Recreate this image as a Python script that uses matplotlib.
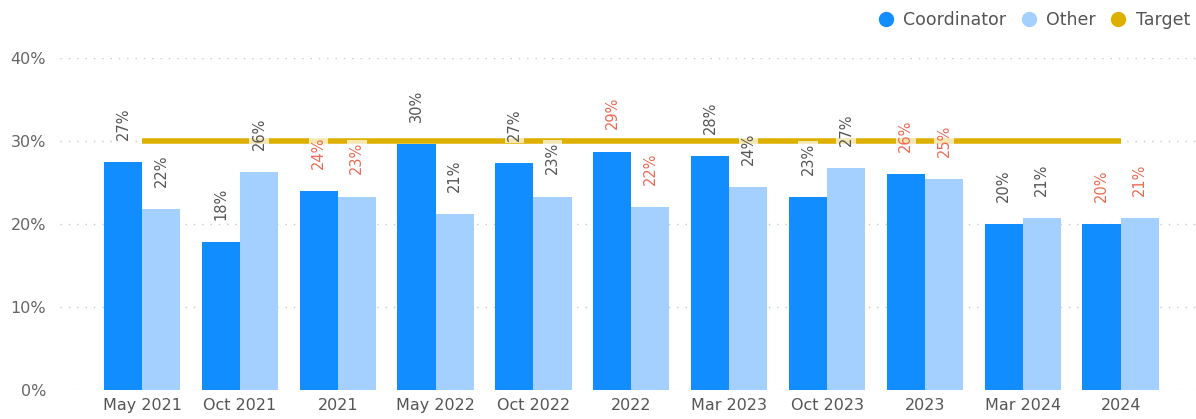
import numpy as np
import matplotlib.pyplot as plt
from matplotlib.lines import Line2D

# dados
categories = ['May 2021', 'Oct 2021', '2021', 'May 2022', 'Oct 2022', '2022',
              'Mar 2023', 'Oct 2023', '2023', 'Mar 2024', '2024']
coordinator = [0.274, 0.178, 0.240, 0.296, 0.273, 0.287, 0.282, 0.232, 0.260, 0.200, 0.200]
other = [0.218, 0.262, 0.233, 0.212, 0.233, 0.220, 0.244, 0.267, 0.254, 0.207, 0.207]
target = 0.30
# rótulos em vermelho para os totais anuais
red_labels = [False, False, True, False, False, True, False, False, True, False, True]

c_coord = '#118DFF'
c_other = '#A3D0FF'
c_target = '#DDB000'
c_red = '#EE6A55'
c_gray = '#555555'

fig = plt.figure(figsize=(11.96, 4.19), dpi=100)
ax = fig.add_axes([0.05, 0.069, 0.95, 0.793])

x = np.arange(len(categories))
w = 0.39

ax.bar(x - w / 2, coordinator, width=w, color=c_coord, zorder=2)
ax.bar(x + w / 2, other, width=w, color=c_other, zorder=2)

# linha da meta
ax.plot([x[0], x[-1]], [target, target], color=c_target, lw=4, zorder=3,
        solid_capstyle='butt')

# rótulos dos dados
for i in range(len(x)):
    col = c_red if red_labels[i] else c_gray
    for xpos, val in [(x[i] - w / 2, coordinator[i]), (x[i] + w / 2, other[i])]:
        ax.annotate(f'{round(val * 100):.0f}%', (xpos, val), xytext=(0, 16),
                    textcoords='offset points', rotation=90, ha='center',
                    va='bottom', fontsize=10.5, color=col, zorder=4,
                    bbox=dict(boxstyle='square,pad=0.15', fc='white',
                              ec='none', alpha=0.7))

ax.set_ylim(0, 0.40)
ax.set_xlim(-0.84, 10.77)
ax.set_yticks([0, 0.1, 0.2, 0.3, 0.4])
ax.set_yticklabels(['0%', '10%', '20%', '30%', '40%'])
ax.set_xticks(x)
ax.set_xticklabels(categories)
ax.tick_params(axis='both', length=0, labelsize=11.5, colors='#555555')
ax.tick_params(axis='y', pad=10, colors='#666666')
ax.tick_params(axis='x', pad=6)
ax.grid(axis='y', linestyle=(0, (1, 5)), color='#C8C8C8', lw=1, zorder=0)
for s in ax.spines.values():
    s.set_visible(False)

handles = [
    Line2D([], [], marker='o', ls='none', color=c_coord, markersize=10),
    Line2D([], [], marker='o', ls='none', color=c_other, markersize=10),
    Line2D([], [], marker='o', ls='none', color=c_target, markersize=10),
]
fig.legend(handles, ['Coordinator', 'Other', 'Target'], loc='upper right',
           bbox_to_anchor=(1.008, 1.01), ncol=3, frameon=False, fontsize=12.5,
           handletextpad=0.0, columnspacing=0.3, labelcolor='#555555')

fig.savefig('out.png', dpi=100)
